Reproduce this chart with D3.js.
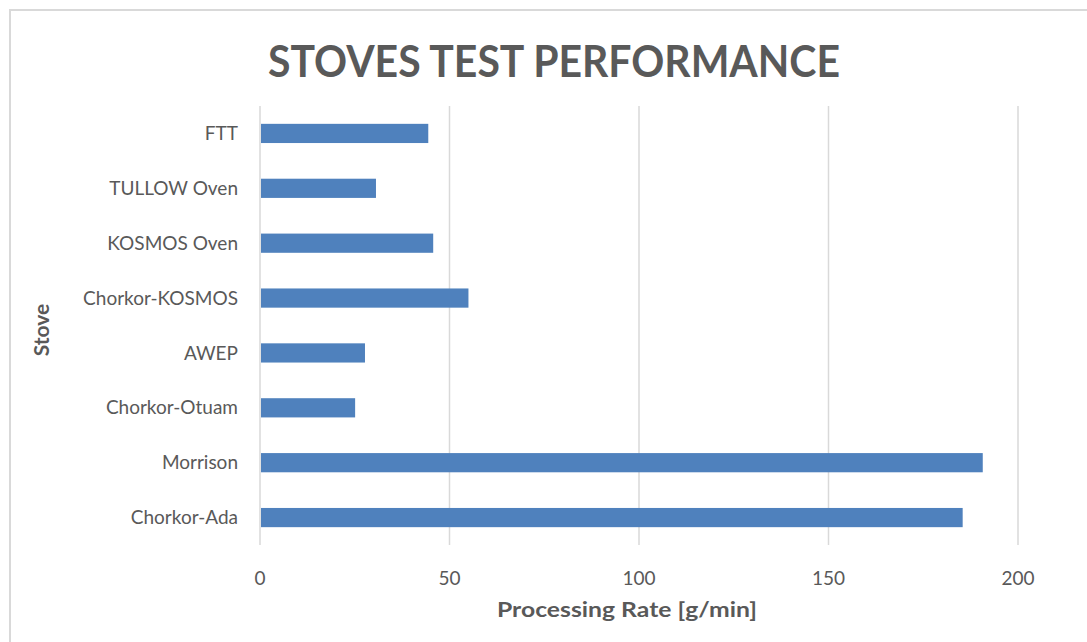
<!DOCTYPE html>
<html>
<head>
<meta charset="utf-8">
<script src="https://cdnjs.cloudflare.com/ajax/libs/d3/7.8.5/d3.min.js"></script>
<style>
  body { margin: 0; background: #fff; }
  text { font-family: Lato, "Open Sans", sans-serif; fill: #595959; }
</style>
</head>
<body>
<div id="chart"></div>
<script>
const stoves = ["Chorkor-Ada", "Morrison", "Chorkor-Otuam", "AWEP", "Chorkor-KOSMOS", "KOSMOS Oven", "TULLOW Oven", "FTT"];
const rates = [185.4, 190.7, 25.1, 27.7, 55.0, 45.7, 30.6, 44.4];
const xTicks = [0, 50, 100, 150, 200];

const width = 1087;
const height = 642;
const margin = { top: 106, right: 69, bottom: 97, left: 260 };

const svg = d3.select("#chart").append("svg")
  .attr("width", width)
  .attr("height", height);

// chart frame
svg.append("rect")
  .attr("x", 10).attr("y", 10)
  .attr("width", width + 10).attr("height", height + 10)
  .attr("fill", "none")
  .attr("stroke", "#d9d9d9")
  .attr("stroke-width", 2);

const x = d3.scaleLinear()
  .domain([0, 200])
  .range([margin.left, width - margin.right]);

const y = d3.scaleBand()
  .domain(stoves.slice().reverse())
  .range([margin.top, height - margin.bottom])
  .paddingInner(0.65)
  .paddingOuter(0.325);

// gridlines
svg.append("g")
  .selectAll("line")
  .data(xTicks)
  .join("line")
  .attr("x1", d => x(d)).attr("x2", d => x(d))
  .attr("y1", margin.top).attr("y2", height - margin.bottom)
  .attr("stroke", "#d9d9d9")
  .attr("stroke-width", 1.5);

// bars
svg.append("g")
  .selectAll("rect")
  .data(stoves.map((s, i) => ({ stove: s, rate: rates[i] })))
  .join("rect")
  .attr("x", x(0) + 1)
  .attr("y", d => y(d.stove))
  .attr("width", d => x(d.rate) - x(0) - 1)
  .attr("height", y.bandwidth())
  .attr("fill", "#4f81bd");

// x tick labels
svg.append("g")
  .selectAll("text")
  .data(xTicks)
  .join("text")
  .attr("x", d => x(d))
  .attr("y", 585)
  .attr("text-anchor", "middle")
  .attr("font-size", 19)
  .text(d => d);

// y category labels
svg.append("g")
  .selectAll("text")
  .data(stoves)
  .join("text")
  .attr("x", 238)
  .attr("y", d => y(d) + y.bandwidth() / 2)
  .attr("dy", "0.35em")
  .attr("text-anchor", "end")
  .attr("font-size", 19)
  .text(d => d);

// title
svg.append("text")
  .attr("x", 554)
  .attr("y", 77)
  .attr("text-anchor", "middle")
  .attr("font-size", 44)
  .attr("font-weight", "bold")
  .attr("textLength", 572)
  .attr("lengthAdjust", "spacingAndGlyphs")
  .text("STOVES TEST PERFORMANCE");

// axis titles
svg.append("text")
  .attr("x", 627)
  .attr("y", 617)
  .attr("text-anchor", "middle")
  .attr("font-size", 21)
  .attr("font-weight", "bold")
  .attr("textLength", 260)
  .attr("lengthAdjust", "spacingAndGlyphs")
  .text("Processing Rate [g/min]");

svg.append("text")
  .attr("transform", "translate(49,330) rotate(-90)")
  .attr("text-anchor", "middle")
  .attr("font-size", 21)
  .attr("font-weight", "bold")
  .text("Stove");
</script>
</body>
</html>
